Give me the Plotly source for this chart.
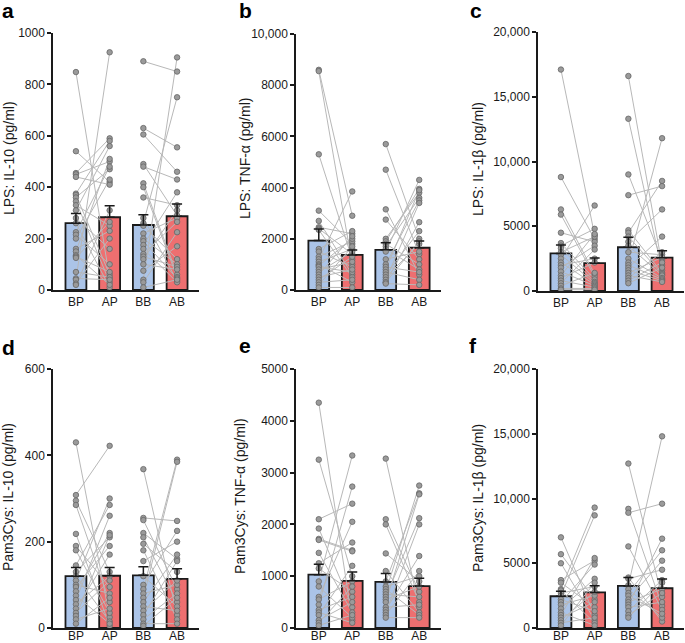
import plotly.graph_objects as go

categories = ["BP", "AP", "BB", "AB"]

# ---- Panel a: LPS IL-10 ----
a_bp = [848, 540, 455, 450, 440, 375, 370, 360, 345, 330, 310, 280, 260, 225, 215, 200, 160, 150, 135, 130, 125, 70, 45, 40, 25, 20]
a_ap = [45, 420, 590, 500, 410, 580, 60, 470, 30, 250, 560, 160, 10, 480, 100, 430, 230, 510, 20, 70, 265, 50, 40, 925, 200, 310]
a_bb = [890, 630, 605, 490, 480, 415, 400, 360, 280, 260, 250, 220, 200, 190, 175, 160, 140, 130, 120, 100, 75, 40, 30, 10]
a_ab = [850, 555, 460, 290, 430, 60, 50, 330, 35, 750, 120, 280, 100, 45, 380, 30, 265, 90, 310, 80, 170, 905, 225, 40]
a_mean = [260, 283, 253, 287]
a_sem = [38, 45, 40, 48]
a_ticks = [0, 200, 400, 600, 800, 1000]
a_ticklabels = ["0", "200", "400", "600", "800", "1000"]

# ---- Panel b: LPS TNF-alpha ----
b_bp = [8600, 8550, 5300, 3100, 2700, 2450, 2400, 2350, 1600, 1500, 1300, 1200, 1100, 1000, 950, 900, 800, 700, 600, 500, 400, 300, 200, 100]
b_ap = [2900, 1000, 1200, 1800, 600, 2200, 1400, 500, 2300, 900, 1900, 3850, 1600, 300, 2000, 700, 1100, 1500, 2100, 800, 1300, 400, 1700, 100]
b_bb = [5700, 4700, 3150, 2750, 2000, 1900, 1800, 1700, 1600, 1500, 1200, 1000, 900, 800, 700, 600, 500, 400, 300, 300, 250]
b_ab = [2000, 1400, 600, 1200, 3800, 3950, 1000, 3600, 800, 4300, 1500, 3500, 700, 3900, 400, 2300, 1800, 3400, 1900, 2650, 200]
b_mean = [1930, 1370, 1570, 1650]
b_sem = [450, 190, 280, 260]
b_ticks = [0, 2000, 4000, 6000, 8000, 10000]
b_ticklabels = ["0", "2000", "4000", "6000", "8000", "10,000"]

# ---- Panel c: LPS IL-1beta ----
c_bp = [17100, 8800, 6300, 5900, 4500, 3700, 3500, 3300, 3000, 2800, 2500, 2200, 2000, 1800, 1500, 1200, 1000, 800, 600, 400, 200, 100]
c_ap = [4300, 4000, 1300, 1100, 3800, 900, 4800, 700, 4200, 600, 6600, 500, 2500, 3500, 400, 4400, 2200, 300, 3200, 1400, 200, 100]
c_bb = [16600, 13300, 9000, 7400, 4700, 4500, 4200, 3800, 3500, 3000, 2500, 2200, 2000, 1800, 1600, 1400, 1200, 1000, 800, 600]
c_ab = [2000, 1600, 2400, 8100, 1400, 8500, 1300, 6300, 1200, 2800, 1000, 11800, 900, 4200, 800, 2600, 700, 3000, 2200, 1800]
c_mean = [2900, 2150, 3380, 2570]
c_sem = [650, 400, 770, 530]
c_ticks = [0, 5000, 10000, 15000, 20000]
c_ticklabels = ["0", "5000", "10,000", "15,000", "20,000"]

# ---- Panel d: Pam3Cys IL-10 ----
d_bp = [430, 308, 295, 285, 218, 190, 180, 145, 130, 120, 110, 100, 95, 85, 75, 65, 55, 45, 35, 28, 20, 10]
d_ap = [25, 422, 130, 60, 5, 95, 35, 285, 210, 15, 300, 80, 190, 220, 10, 260, 120, 170, 110, 215, 45, 70]
d_bb = [368, 255, 250, 220, 210, 195, 180, 155, 120, 100, 90, 80, 70, 60, 50, 40, 30, 20, 10, 5]
d_ab = [30, 248, 90, 160, 60, 130, 20, 200, 50, 225, 390, 100, 385, 170, 40, 110, 155, 80, 10, 70]
d_mean = [120, 121, 122, 114]
d_sem = [20, 19, 20, 23]
d_ticks = [0, 200, 400, 600]
d_ticklabels = ["0", "200", "400", "600"]

# ---- Panel e: Pam3Cys TNF-alpha ----
e_bp = [4350, 3250, 2100, 1920, 1720, 1700, 1450, 1250, 1150, 900, 800, 600, 550, 450, 350, 300, 250, 150, 100, 50]
e_ap = [150, 1000, 2400, 400, 1500, 1480, 300, 1650, 700, 3330, 200, 2050, 900, 2730, 600, 100, 1200, 500, 800, 250]
e_bb = [3270, 2100, 2000, 1440, 1100, 900, 800, 750, 700, 650, 600, 550, 500, 400, 350, 300, 250, 200]
e_ab = [400, 700, 500, 900, 300, 2600, 1000, 250, 2750, 600, 2120, 800, 2580, 450, 1390, 2000, 1100, 200]
e_mean = [1030, 910, 890, 810]
e_sem = [200, 170, 160, 150]
e_ticks = [0, 1000, 2000, 3000, 4000, 5000]
e_ticklabels = ["0", "1000", "2000", "3000", "4000", "5000"]

# ---- Panel f: Pam3Cys IL-1beta ----
f_bp = [7000, 5700, 5000, 3700, 3500, 3000, 2900, 2700, 2500, 2200, 2000, 1800, 1500, 1200, 1000, 800, 600, 400, 200]
f_ap = [1000, 2200, 600, 5200, 1600, 9300, 400, 3200, 8700, 1300, 4900, 2500, 3800, 200, 5400, 2000, 2800, 800, 3500]
f_bb = [12700, 9200, 8900, 6300, 3900, 3800, 3300, 3000, 2700, 2500, 2200, 2000, 1800, 1600, 1300, 1000, 800]
f_ab = [2400, 1700, 9600, 1400, 500, 4500, 14800, 800, 6000, 1100, 5200, 3000, 6900, 2000, 3700, 2700, 3500]
f_mean = [2450, 2750, 3250, 3070]
f_sem = [380, 510, 650, 710]
f_ticks = [0, 5000, 10000, 15000, 20000]
f_ticklabels = ["0", "5000", "10,000", "15,000", "20,000"]

letters = ["a", "b", "c", "d", "e", "f"]
titles = ["LPS: IL-10 (pg/ml)", "LPS: TNF-\u03b1 (pg/ml)", "LPS: IL-1\u03b2 (pg/ml)",
          "Pam3Cys: IL-10 (pg/ml)", "Pam3Cys: TNF-\u03b1 (pg/ml)", "Pam3Cys: IL-1\u03b2 (pg/ml)"]

panels = [
    (a_bp, a_ap, a_bb, a_ab, a_mean, a_sem, a_ticks, a_ticklabels),
    (b_bp, b_ap, b_bb, b_ab, b_mean, b_sem, b_ticks, b_ticklabels),
    (c_bp, c_ap, c_bb, c_ab, c_mean, c_sem, c_ticks, c_ticklabels),
    (d_bp, d_ap, d_bb, d_ab, d_mean, d_sem, d_ticks, d_ticklabels),
    (e_bp, e_ap, e_bb, e_ab, e_mean, e_sem, e_ticks, e_ticklabels),
    (f_bp, f_ap, f_bb, f_ab, f_mean, f_sem, f_ticks, f_ticklabels),
]

W, H = 685, 643
FONT = "Liberation Sans, Arial, Helvetica, sans-serif"
BLUE = "#abc4e8"
RED = "#ee6f70"
INK = "#1a1a1a"

# plot boxes in pixels: (left, right, top, bottom)
boxes = [(53, 199, 33, 290), (296, 441, 34, 290), (538, 684, 32, 291),
         (53, 199, 369, 628), (296, 441, 369, 628), (538, 684, 369, 628)]
title_pos = [(9, 158), (245, 159), (478, 159), (8, 497), (240, 496), (478, 498)]
letter_pos = [(0, 24), (237, 24), (468, 24), (0, 361), (237, 359), (467, 359)]

def px(x):
    return x / W

def py(y):
    return 1 - y / H

fig = go.Figure()
layout = dict(width=W, height=H, margin=dict(l=0, r=0, t=0, b=0, autoexpand=False),
              paper_bgcolor="white", plot_bgcolor="white", showlegend=False,
              font=dict(family=FONT, color=INK, size=12), annotations=[])

xpos = [0, 1, 2, 3]
for i, (g0, g1, g2, g3, mean, sem, ticks, tlabels) in enumerate(panels):
    sfx = "" if i == 0 else str(i + 1)
    xa, ya = "x" + sfx, "y" + sfx
    L, R, T, B = boxes[i]
    ymax = ticks[-1]

    fig.add_trace(go.Bar(x=xpos, y=mean, width=0.62, xaxis=xa, yaxis=ya,
                         marker=dict(color=[BLUE, RED, BLUE, RED], line=dict(color=INK, width=1.8)),
                         hoverinfo="skip"))
    lx, ly = [], []
    for pre, post, x0 in ((g0, g1, 0), (g2, g3, 2)):
        for v0, v1 in zip(pre, post):
            lx += [x0, x0 + 1, None]
            ly += [v0, v1, None]
    fig.add_trace(go.Scatter(x=lx, y=ly, mode="lines", xaxis=xa, yaxis=ya,
                             line=dict(color="#b8b8b8", width=1), hoverinfo="skip", cliponaxis=False))
    mx, my = [], []
    for k, g in enumerate((g0, g1, g2, g3)):
        mx += [k] * len(g)
        my += list(g)
    fig.add_trace(go.Scatter(x=mx, y=my, mode="markers", xaxis=xa, yaxis=ya, cliponaxis=False,
                             marker=dict(size=5.5, color="#9a9a9a", line=dict(color="#666666", width=0.8))))
    fig.add_trace(go.Scatter(x=xpos, y=mean, mode="markers", xaxis=xa, yaxis=ya,
                             marker=dict(size=1, opacity=0), cliponaxis=False,
                             error_y=dict(type="data", symmetric=False, array=sem, arrayminus=[0] * 4,
                                          color=INK, thickness=1.5, width=5)))

    layout["xaxis" + sfx] = dict(domain=[px(L), px(R)], anchor=ya, range=[-0.68, 3.65],
                                 tickvals=xpos, ticktext=categories, ticks="", showline=True,
                                 linecolor=INK, linewidth=1.5, showgrid=False, zeroline=False,
                                 automargin=False, ticklabelstandoff=(-4 if i >= 3 else 0),
                                 tickfont=dict(size=12, family=FONT, color=INK), fixedrange=True)
    layout["yaxis" + sfx] = dict(domain=[py(B), py(T)], anchor=xa, range=[0, ymax],
                                 tickvals=ticks, ticktext=tlabels, ticks="outside", ticklen=4,
                                 tickwidth=1.5, tickcolor=INK, showline=True, linecolor=INK,
                                 linewidth=1.5, showgrid=False, zeroline=False, automargin=False,
                                 tickfont=dict(size=12, family=FONT, color=INK), fixedrange=True)

    tx, ty = title_pos[i]
    layout["annotations"].append(dict(text=titles[i], xref="paper", yref="paper", x=px(tx), y=py(ty),
                                      xanchor="center", yanchor="middle", textangle=-90, showarrow=False,
                                      font=dict(size=14, family=FONT, color=INK)))
    lx0, ly0 = letter_pos[i]
    layout["annotations"].append(dict(text="<b>" + letters[i] + "</b>", xref="paper", yref="paper",
                                      x=px(lx0), y=py(ly0), xanchor="left", yanchor="bottom",
                                      showarrow=False, font=dict(size=21, family=FONT, color="#000")))

fig.update_layout(**layout)
fig.write_html("out.html", config={"displayModeBar": False},
               post_script="document.body.style.margin='0';document.body.style.overflow='hidden';")
